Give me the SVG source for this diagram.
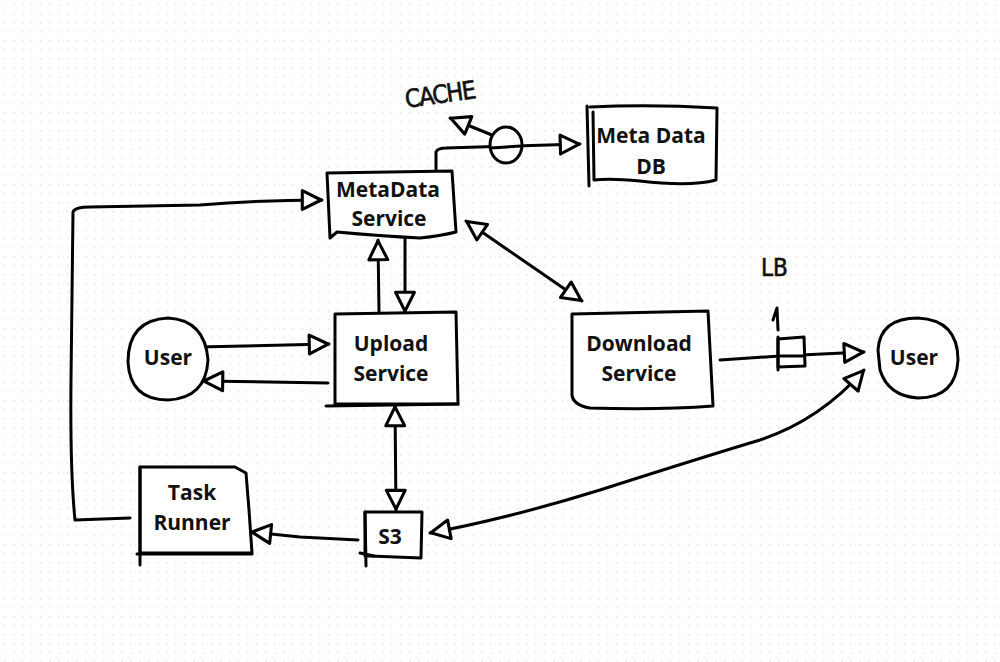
<svg xmlns="http://www.w3.org/2000/svg" width="1000" height="662" viewBox="0 0 1000 662">
<defs>
<pattern id="dots" x="0" y="0" width="9" height="9" patternUnits="userSpaceOnUse">
<rect x="4" y="4" width="1.5" height="1.5" fill="#e4e4e4"/>
</pattern>
<marker id="arr" viewBox="0 0 14 14" refX="13" refY="7" markerWidth="24" markerHeight="24" markerUnits="userSpaceOnUse" orient="auto-start-reverse">
<path d="M1.5,1.5 L12.5,7 L1.5,12.5 Z" fill="#fff" stroke="#000" stroke-width="1.8" stroke-linejoin="round"/>
</marker>
<style>
.s{fill:none;stroke:#000;stroke-width:3;stroke-linecap:round;stroke-linejoin:round}
.b{fill:#fff;stroke:#000;stroke-width:3;stroke-linecap:round;stroke-linejoin:round}
.t{font-family:"Open Sans","Liberation Sans",sans-serif;font-weight:700;font-size:21px;fill:#111;text-anchor:middle}
.h{font-family:"DejaVu Sans","Liberation Sans",sans-serif;font-weight:400;fill:#111;stroke:#111;stroke-width:0.6}
</style>
</defs>
<rect width="1000" height="662" fill="#fff"/>
<rect width="1000" height="662" fill="url(#dots)"/>

<g id="connectors">
<path class="s" d="M436,172 L436,152 Q438,148 446,148 L580,144" marker-end="url(#arr)"/>
<path class="s" d="M492,135 L450,118" marker-end="url(#arr)"/>
<path class="s" d="M379,312 L378,240" marker-end="url(#arr)"/>
<path class="s" d="M405,238 L405,312" marker-end="url(#arr)"/>
<path class="s" d="M198,347 L329,344" marker-end="url(#arr)"/>
<path class="s" d="M328,383 L203,381" marker-end="url(#arr)"/>
<path class="s" d="M466,221 L582,301" marker-start="url(#arr)" marker-end="url(#arr)"/>
<path class="s" d="M720,360 L780,356 L864,352" marker-end="url(#arr)"/>
<path class="s" d="M395,406 L396,510" marker-start="url(#arr)" marker-end="url(#arr)"/>
<path class="s" d="M358,540 L300,537 L251,532" marker-end="url(#arr)"/>
<path class="s" d="M130,518 L75,520 Q70,470 71,380 L73,212 Q75,207 90,207 L200,205 Q260,200 322,200" marker-end="url(#arr)"/>
<path class="s" d="M864,370 Q820,420 760,440 Q700,458 600,490 Q510,518 430,533" marker-start="url(#arr)" marker-end="url(#arr)"/>
</g>

<g id="cache">
<ellipse class="b" cx="506" cy="145" rx="16" ry="18"/>
<path class="s" d="M491,148 L521,146"/>
<text class="h" x="404" y="103" font-size="25" font-stretch="condensed" transform="rotate(-8 440 90)" letter-spacing="-1.5">CACHE</text>
</g>

<g id="metadata-db">
<path class="b" d="M590,107 Q650,104 717,108 L716,180 Q690,187 640,181 Q610,178 594,180 L593,112 M587,106 L589,186"/>
<text class="t" x="651" y="143">Meta Data</text>
<text class="t" x="651" y="174">DB</text>
</g>

<g id="metadata-service">
<path class="b" d="M327,173 L452,171 L456,232 Q440,236 420,238 Q380,236 337,232 L330,238 Z"/>
<text class="t" x="388" y="197">MetaData</text>
<text class="t" x="389" y="226">Service</text>
</g>

<g id="upload-service">
<path class="b" d="M335,314 L456,312 L458,404 L335,404 Z"/>
<path class="s" d="M326,406 L458,404"/>
<text class="t" x="391" y="351">Upload</text>
<text class="t" x="391" y="381">Service</text>
</g>

<g id="user-left">
<path class="b" d="M168,318 Q205,320 208,360 Q206,398 168,400 Q130,400 128,362 Q128,320 168,318 Z"/>
<text class="t" x="168" y="365">User</text>
</g>

<g id="download-service">
<path class="b" d="M572,314 L708,311 L713,406 Q660,410 590,408 Q573,405 572,395 Z"/>
<text class="t" x="639" y="351">Download</text>
<text class="t" x="639" y="381">Service</text>
</g>

<g id="lb">
<path class="b" d="M778,339 L804,337 L805,366 L778,367 Z"/>
<path class="s" d="M778,337 L778,370"/>
<path class="s" d="M780,356 L804,356"/>
<path class="s" d="M778,330 L777,308 L773,320"/>
<text class="h" x="761" y="276" font-size="24" font-stretch="condensed">LB</text>
</g>

<g id="user-right">
<path class="b" d="M918,318 Q958,320 958,360 Q956,398 918,398 Q888,396 880,370 L878,350 Q880,318 918,318 Z"/>
<text class="t" x="914" y="365">User</text>
</g>

<g id="task-runner">
<path class="b" d="M140,467 L235,467 L246,473 L249,510 L252,553 L140,553 Z"/>
<path class="s" d="M140,467 L140,565 M137,554 L252,554"/>
<text class="t" x="192" y="500">Task</text>
<text class="t" x="192" y="530">Runner</text>
</g>

<g id="s3">
<path class="b" d="M365,512 L422,512 L421,558 L370,556 L365,556 Z"/>
<path class="s" d="M365,512 L366,566 M360,553 L374,556"/>
<text class="t" x="390" y="544">S3</text>
</g>
</svg>
